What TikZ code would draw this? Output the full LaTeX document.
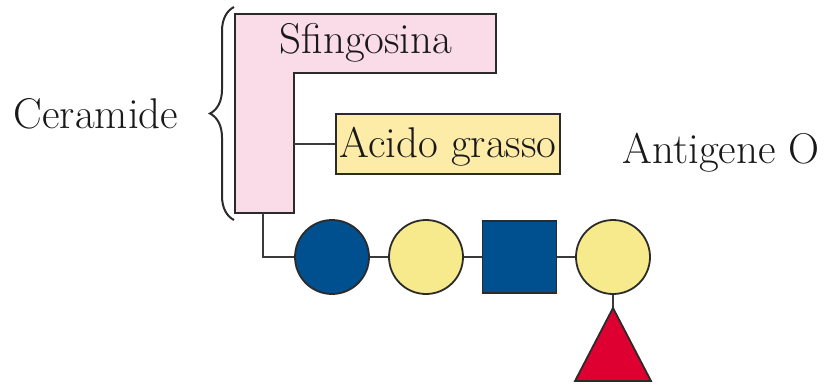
\documentclass[tikz,border=0pt]{standalone}
\usetikzlibrary{decorations.pathreplacing}
\definecolor{pinkL}{HTML}{F9DCE8}
\definecolor{yellowbox}{HTML}{FDEBA8}
\definecolor{yellowS}{HTML}{F7EA8C}
\definecolor{blueS}{HTML}{00508F}
\definecolor{redS}{HTML}{DE0030}
\definecolor{outline}{HTML}{2B2B2B}
\definecolor{linkc}{HTML}{3A3A3A}
\begin{document}
\begin{tikzpicture}[x=1pt,y=-1pt,
  bigtext/.style={font=\fontsize{43}{50}\selectfont, inner sep=0pt, text=black!90},
  shapeout/.style={draw=outline, line width=1.8pt},
  sugarcircle/.style={shapeout, circle, minimum size=74pt, inner sep=0pt},
  sugarsquare/.style={shapeout, rectangle, minimum width=74pt, minimum height=72pt, inner sep=0pt},
  link/.style={draw=linkc, line width=2pt},
  bracestyle/.style={draw=outline, line width=2pt, decorate, decoration={brace, amplitude=24pt}}
]
\useasboundingbox (0,0) rectangle (825,386);
% sphingosine L shape
\draw[shapeout, fill=pinkL] (235,14) -- (496,14) -- (496,73) -- (294,73) -- (294,213) -- (235,213) -- cycle;
\coordinate (Lmid) at (294,144);
\coordinate (Lbot) at (263,213);
\coordinate (Lcorner) at (263,257);
\node[bigtext, anchor=base] (sfing) at (366,53) {Sfingosina};
% fatty acid
\node[shapeout, fill=yellowbox, rectangle, minimum width=224pt, minimum height=60pt, inner sep=0pt] (acido) at (448,144) {};
\node[bigtext, anchor=base] (acidotxt) at (448,157) {Acido grasso};
\draw[link] (Lmid) -- (acido.west);
% brace and label
\coordinate (btop) at (234,7);
\coordinate (bbot) at (234,220);
\draw[bracestyle] (bbot) -- (btop);
\node[bigtext, anchor=base] (ceramide) at (96,128) {Ceramide};
\node[bigtext, anchor=base] (antigene) at (721,163) {Antigene O};
% sugar chain
\node[sugarcircle, fill=blueS] (c1) at (332,257) {};
\node[sugarcircle, fill=yellowS] (c2) at (426,257) {};
\node[sugarsquare, fill=blueS] (sq) at (519.5,257) {};
\node[sugarcircle, fill=yellowS] (c3) at (613,257) {};
\draw[link] (Lbot) -- (Lcorner) -- (c1);
\draw[link] (c1) -- (c2);
\draw[link] (c2) -- (sq);
\draw[link] (sq) -- (c3);
\coordinate (triapex) at (613,308);
\draw[link] (c3) -- (triapex);
\draw[shapeout, fill=redS, line join=miter] (triapex) -- (651,381) -- (575,381) -- cycle;
\end{tikzpicture}
\end{document}
